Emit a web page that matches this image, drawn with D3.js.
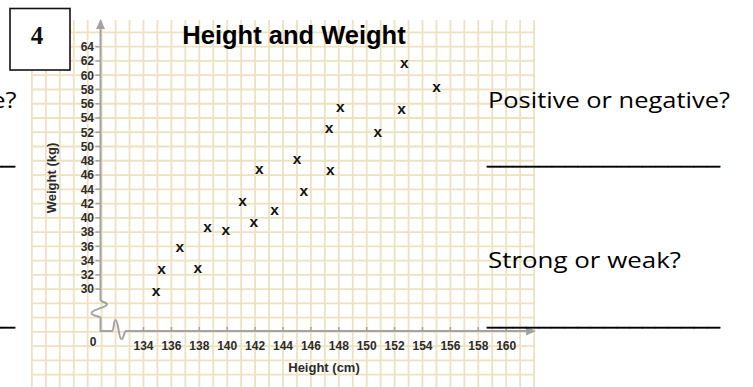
<!DOCTYPE html>
<html>
<head>
<meta charset="utf-8">
<script src="https://cdn.jsdelivr.net/npm/d3@7"></script>
<style>
html,body{margin:0;padding:0;background:#fff;overflow:hidden;}
svg{display:block;}
</style>
</head>
<body>
<svg id="chart" width="753" height="387"></svg>
<script>
// ---- data ----
const heightsCm = [134.9, 135.3, 136.6, 137.9, 138.6, 139.9, 141.1, 141.9, 142.3, 143.4, 145.0, 145.5, 147.3, 147.4, 148.1, 150.8, 152.5, 152.7, 155.0];
const weightsKg = [29.7, 32.7, 35.8, 32.9, 38.6, 38.2, 42.3, 39.3, 46.8, 41.0, 48.1, 43.6, 52.5, 46.6, 55.4, 51.9, 55.1, 61.6, 58.3];
const xTickValues = [134, 136, 138, 140, 142, 144, 146, 148, 150, 152, 154, 156, 158, 160];
const yTickValues = [30, 32, 34, 36, 38, 40, 42, 44, 46, 48, 50, 52, 54, 56, 58, 60, 62, 64];
const titleText = "Height and Weight";
const xTitle = "Height (cm)";
const yTitle = "Weight (kg)";
const questionNo = "4";
const questions = ["Positive or negative?", "Strong or weak?"];
const blank = "__________________";

const svg = d3.select("#chart");

const x = d3.scaleLinear().domain([134, 160]).range([143.5, 506.2]);
const y = d3.scaleLinear().domain([30, 64]).range([289.1, 46.7]);

const gridLeft = 31.5, gridRight = 535, gridTop = 20, gridBottom = 387;
const axisX = 100.5, axisY = 331;
const gridCol = "#eee1c0";
const axisCol = "#a3a3a3";

// ---- grid paper ----
const grid = svg.append("g");
const vVals = d3.range(Math.ceil(x.invert(gridLeft)), Math.floor(x.invert(gridRight)) + 1, 1);
grid.selectAll("line.v").data(vVals).join("line")
  .attr("x1", d => x(d)).attr("x2", d => x(d))
  .attr("y1", gridTop).attr("y2", gridBottom)
  .attr("stroke", gridCol).attr("stroke-width", 1.8);
const hVals = d3.range(Math.ceil(y.invert(gridBottom) / 2) * 2, y.invert(gridTop), 2);
grid.selectAll("line.h").data(hVals).join("line")
  .attr("x1", gridLeft).attr("x2", gridRight)
  .attr("y1", d => y(d)).attr("y2", d => y(d))
  .attr("stroke", gridCol).attr("stroke-width", 1.8);

// ---- question box ----
svg.append("rect").attr("x", 10).attr("y", 8.5).attr("width", 60).attr("height", 61.5)
  .attr("fill", "#fff").attr("stroke", "#111").attr("stroke-width", 1.6);
svg.append("text").attr("x", 37).attr("y", 44)
  .attr("text-anchor", "middle")
  .attr("font-family", "Liberation Serif, serif").attr("font-weight", "bold").attr("font-size", 25)
  .attr("fill", "#111").text(questionNo);

// ---- axes (with breaks) ----
const axes = svg.append("g").attr("fill", "none").attr("stroke", axisCol).attr("stroke-width", 2);
axes.append("path").attr("d",
  `M${axisX},28 L${axisX},300 C${axisX},302 107,302 107,304.5 C107,307.5 91.5,309.5 91.5,313 C91.5,316 ${axisX},316 ${axisX},318 L${axisX},${axisY} L112,${axisY} C114,${axisY} 113.5,320 115.5,320 C118.5,320 118.5,339 121.5,339 C124,339 124,${axisY} 126,${axisY} L527,${axisY}`);
svg.append("path").attr("d", `M${axisX},19 L${axisX - 4.5},29 L${axisX + 4.5},29 Z`).attr("fill", axisCol);
svg.append("path").attr("d", `M536,${axisY} L526,${axisY - 4.5} L526,${axisY + 4.5} Z`).attr("fill", axisCol);

// ticks
svg.append("g").selectAll("line").data(xTickValues).join("line")
  .attr("x1", d => x(d)).attr("x2", d => x(d)).attr("y1", axisY - 4).attr("y2", axisY)
  .attr("stroke", axisCol).attr("stroke-width", 1.5);
svg.append("g").selectAll("line").data(yTickValues).join("line")
  .attr("x1", axisX - 5).attr("x2", axisX).attr("y1", d => y(d)).attr("y2", d => y(d))
  .attr("stroke", axisCol).attr("stroke-width", 1.5);

const lab = { "font-family": "Liberation Sans, Arial, sans-serif", "font-weight": "bold", "font-size": 12, fill: "#2b2b2b" };
function applyAttrs(sel, o) { for (const k in o) sel.attr(k, o[k]); return sel; }

applyAttrs(svg.append("g").selectAll("text").data(xTickValues).join("text"), lab)
  .attr("x", d => x(d)).attr("y", 350).attr("text-anchor", "middle").text(d => d);
applyAttrs(svg.append("g").selectAll("text").data(yTickValues).join("text"), lab)
  .attr("x", 94).attr("y", d => y(d) + 4.3).attr("text-anchor", "end").text(d => d);
applyAttrs(svg.append("text"), lab).attr("x", 93).attr("y", 346).attr("text-anchor", "middle").text("0");

applyAttrs(svg.append("text"), lab).attr("font-size", 13)
  .attr("x", 324).attr("y", 372).attr("text-anchor", "middle").text(xTitle);
applyAttrs(svg.append("text"), lab).attr("font-size", 13)
  .attr("transform", "translate(56,178) rotate(-90)").attr("text-anchor", "middle").text(yTitle);

// title
svg.append("text").attr("x", 294).attr("y", 44).attr("text-anchor", "middle")
  .attr("font-family", "Liberation Sans, Arial, sans-serif").attr("font-weight", "bold").attr("font-size", 25.5)
  .attr("fill", "#000").text(titleText);

// ---- points ----
svg.append("g").selectAll("text").data(heightsCm.map((h, i) => [h, weightsKg[i]])).join("text")
  .attr("x", d => x(d[0])).attr("y", d => y(d[1]) + 4.3)
  .attr("text-anchor", "middle")
  .attr("font-family", "Liberation Sans, Arial, sans-serif").attr("font-weight", "bold").attr("font-size", 15.5)
  .attr("fill", "#111").text("x");

// ---- side questions ----
const qFont = "Open Sans, Noto Sans, sans-serif";
const qBase = [108, 268];
const qLen = [242, 193];
questions.forEach((q, i) => {
  svg.append("text").attr("x", 488).attr("y", qBase[i])
    .attr("font-family", qFont).attr("font-size", 21).attr("fill", "#000")
    .attr("textLength", qLen[i]).attr("lengthAdjust", "spacingAndGlyphs").text(q);
});
// cut-off text from the neighbouring panel on the left
svg.append("text").attr("x", 16.5).attr("y", 108).attr("text-anchor", "end")
  .attr("font-family", qFont).attr("font-size", 21).attr("fill", "#000")
  .attr("textLength", 242).attr("lengthAdjust", "spacingAndGlyphs").text(questions[0]);

const blankY = [166, 327];
blankY.forEach(by => {
  svg.append("text").attr("x", 487).attr("y", by - 2).attr("font-family", qFont).attr("font-size", 21)
    .attr("fill", "#000").attr("stroke", "#000").attr("stroke-width", 0.5)
    .attr("textLength", 233).attr("lengthAdjust", "spacingAndGlyphs").text(blank);
  svg.append("text").attr("x", 15).attr("y", by - 2).attr("text-anchor", "end").attr("font-family", qFont).attr("font-size", 21)
    .attr("fill", "#000").attr("stroke", "#000").attr("stroke-width", 0.5)
    .attr("textLength", 233).attr("lengthAdjust", "spacingAndGlyphs").text(blank);
});
</script>
</body>
</html>
